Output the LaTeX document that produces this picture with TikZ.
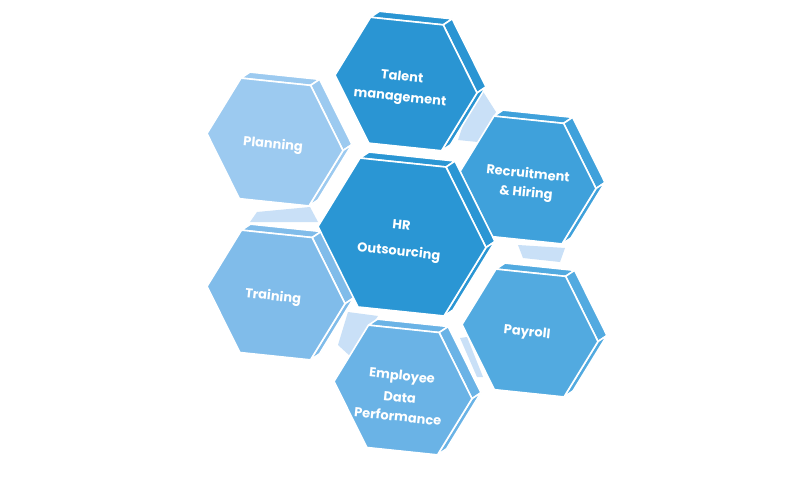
\documentclass[tikz,border=0pt]{standalone}
\usepackage{fontspec}
\setmainfont{Poppins}
\usetikzlibrary{calc}

\definecolor{hrblue}{HTML}{2A96D4}
\definecolor{talentblue}{HTML}{2A95D3}
\definecolor{recruitblue}{HTML}{3FA1DB}
\definecolor{payrollblue}{HTML}{52AAE0}
\definecolor{employeeblue}{HTML}{6AB3E6}
\definecolor{trainingblue}{HTML}{80BCEA}
\definecolor{planningblue}{HTML}{9CCAF0}
\definecolor{linkblue}{HTML}{C9E0F7}

% hexagonal prism: name, centre, radius, colour
\newcommand{\hexprism}[4]{%
  \begin{scope}[shift={#2}, scale=#3]
    \coordinate (#1-L)  at (-1,-0.125);
    \coordinate (#1-TL) at (-0.5,-0.94);
    \coordinate (#1-TR) at (0.524,-0.833);
    \coordinate (#1-R)  at (1,0.125);
    \coordinate (#1-BR) at (0.5,0.94);
    \coordinate (#1-BL) at (-0.524,0.833);
  \end{scope}
  \filldraw[face, fill=#4] (#1-TL) -- (#1-TR) -- ($(#1-TR)+(9,-6)$) -- ($(#1-TL)+(9,-6)$) -- cycle;
  \filldraw[face, fill=#4] (#1-TR) -- (#1-R) -- ($(#1-R)+(9,-6)$) -- ($(#1-TR)+(9,-6)$) -- cycle;
  \filldraw[face, fill=#4] (#1-R) -- (#1-BR) -- ($(#1-BR)+(9,-6)$) -- ($(#1-R)+(9,-6)$) -- cycle;
  \filldraw[face, fill=#4] (#1-L) -- (#1-TL) -- (#1-TR) -- (#1-R) -- (#1-BR) -- (#1-BL) -- cycle;
}

\begin{document}
\begin{tikzpicture}[x=1pt, y=-1pt]
    \tikzstyle{face} = [draw=white, line width=1.6pt, line join=round]
    \tikzstyle{link} = [fill=linkblue]
    \tikzstyle{caption} = [text=white, font=\bfseries\fontsize{13}{16}\selectfont, align=center, rotate=-6, inner sep=1pt]

    \useasboundingbox[fill=white] (0,0) rectangle (800,479);

    % light links behind the cells
    \fill[link] (257,212) -- (310,207) -- (318,222) -- (250,222) -- cycle;
    \fill[link] (473,96) -- (482,90) -- (496,112) -- (478,142) -- (458,140) -- cycle;
    \fill[link] (518,245) -- (565,248) -- (560,262) -- (523,258) -- cycle;
    \fill[link] (348,312) -- (378,316) -- (350,356) -- (338,345) -- cycle;
    \fill[link] (460,338) -- (467,337) -- (483,377) -- (477,377) -- cycle;

    % outer cells
    \hexprism{plan}{(275,142)}{68}{planningblue}
    \hexprism{talent}{(406,84)}{71}{talentblue}
    \hexprism{train}{(276,295)}{69}{trainingblue}
    \hexprism{recruit}{(528,180)}{68}{recruitblue}
    \hexprism{pay}{(530,333)}{68}{payrollblue}
    \hexprism{employee}{(403,390)}{69}{employeeblue}

    % centre cell
    \hexprism{hr}{(402,237)}{84}{hrblue}

    % captions
    \node[caption] (plan-text) at (273,145) {Planning};
    \node[caption] (talent-text) at (401,88) {Talent\\[4pt]management};
    \node[caption] (train-text) at (273,297) {Training};
    \node[caption] (recruit-text) at (527,184) {Recruitment\\[3pt]\& Hiring};
    \node[caption] (pay-text) at (527,333) {Payroll};
    \node[caption] (employee-text) at (400,396) {Employee\\[6pt]Data\\[3pt]Performance};
    \node[caption] (hr-text) at (400,240) {HR\\[10pt]Outsourcing};
\end{tikzpicture}
\end{document}
